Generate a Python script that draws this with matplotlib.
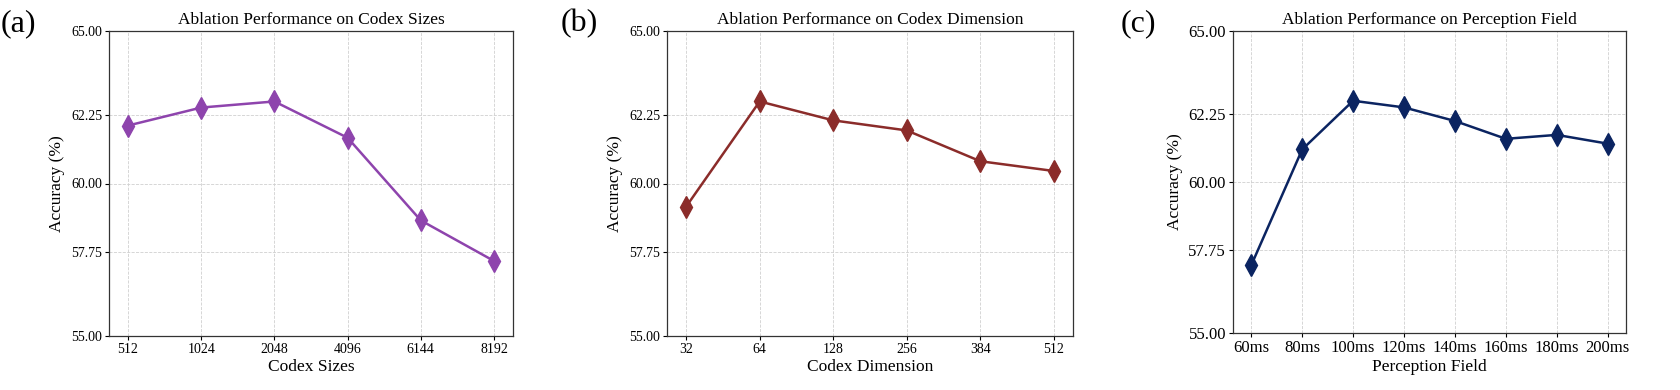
import matplotlib
matplotlib.use("Agg")
import matplotlib.pyplot as plt

plt.rcParams['font.family'] = ['Liberation Serif', 'DejaVu Serif']

sizes_labels = ["512", "1024", "2048", "4096", "6144", "8192"]
sizes_acc = [61.90, 62.49, 62.69, 61.50, 58.79, 57.46]

dim_labels = ["32", "64", "128", "256", "384", "512"]
dim_acc = [59.24, 62.69, 62.07, 61.74, 60.73, 60.41]

field_labels = ["60ms", "80ms", "100ms", "120ms", "140ms", "160ms", "180ms", "200ms"]
field_acc = [57.25, 61.08, 62.69, 62.47, 62.02, 61.43, 61.56, 61.27]

yticks = [55.00, 57.75, 60.00, 62.25, 65.00]

fig = plt.figure(figsize=(16.8, 3.9), dpi=100)

panels = [
    dict(rect=[109/1680, 54/390, 404/1680, 305/390], labels=sizes_labels, vals=sizes_acc,
         color="#8E44AD", title="Ablation Performance on Codex Sizes", xlabel="Codex Sizes",
         tick_fs=10, tag="(a)", tagx=1/1680),
    dict(rect=[667/1680, 54/390, 406/1680, 305/390], labels=dim_labels, vals=dim_acc,
         color="#8B2C2A", title="Ablation Performance on Codex Dimension", xlabel="Codex Dimension",
         tick_fs=10, tag="(b)", tagx=561/1680),
    dict(rect=[1233/1680, 57/390, 393/1680, 302/390], labels=field_labels, vals=field_acc,
         color="#0B2461", title="Ablation Performance on Perception Field", xlabel="Perception Field",
         tick_fs=12, tag="(c)", tagx=1121/1680),
]

for p in panels:
    ax = fig.add_axes(p["rect"])
    x = list(range(len(p["labels"])))
    ax.plot(x, p["vals"], color=p["color"], linewidth=1.8, marker='d',
            markersize=11, zorder=3)
    n = len(x)
    pad = 0.26 if n == 6 else 0.36
    ax.set_xlim(-pad, n - 1 + pad)
    ax.set_ylim(55, 65)
    ax.set_xticks(x)
    ax.set_xticklabels(p["labels"], fontsize=p["tick_fs"])
    ax.set_yticks(yticks)
    ax.set_yticklabels([f"{v:.2f}" for v in yticks], fontsize=p["tick_fs"])
    ax.grid(True, linestyle='--', linewidth=0.6, color='#d0d0d0')
    ax.set_axisbelow(True)
    ax.set_title(p["title"], fontsize=12.5, pad=5)
    ax.set_xlabel(p["xlabel"], fontsize=12.5, labelpad=2)
    ax.set_ylabel("Accuracy (%)", fontsize=12.5, labelpad=4)
    for s in ax.spines.values():
        s.set_linewidth(0.9)
        s.set_color('#333333')
    ax.tick_params(length=3, width=0.8, pad=2)
    fig.text(p["tagx"], 0.94, p["tag"], fontsize=23, va='center', ha='left')

fig.savefig("out.png", dpi=100)
